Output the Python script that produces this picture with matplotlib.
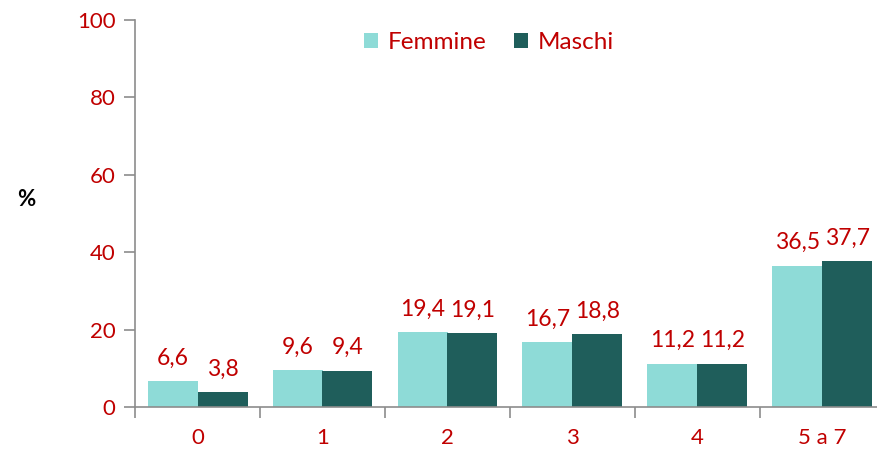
import numpy as np
import matplotlib.pyplot as plt

plt.rcParams['font.family'] = ['Lato', 'DejaVu Sans']

categories = ['0', '1', '2', '3', '4', '5 a 7']
femmine = [6.6, 9.6, 19.4, 16.7, 11.2, 36.5]
maschi = [3.8, 9.4, 19.1, 18.8, 11.2, 37.7]

red = '#C00000'
light = '#8EDBD7'
dark = '#1F5E5B'
grey = '#8C8C8C'

fig = plt.figure(figsize=(8.78, 4.5), dpi=100)
ax = fig.add_axes([135 / 878, 43 / 450, 750 / 878, 387 / 450])

x = np.arange(len(categories))
w = 0.4
b1 = ax.bar(x - w / 2, femmine, w, color=light, label='Femmine')
b2 = ax.bar(x + w / 2, maschi, w, color=dark, label='Maschi')

fmt = lambda v: f'{v:.1f}'.replace('.', ',')
for bars in (b1, b2):
    ax.bar_label(bars, labels=[fmt(v) for v in bars.datavalues],
                 padding=9, color=red, fontsize=16.5)

ax.set_xlim(-0.5, len(categories) - 0.5)
ax.set_ylim(0, 100)
ax.set_yticks(range(0, 101, 20))
ax.set_xticks(x)
ax.set_xticklabels(categories)
ax.set_xticks(np.arange(-0.5, len(categories)), minor=True)
ax.tick_params(axis='x', which='major', length=0, pad=15, labelcolor=red, labelsize=16)
ax.tick_params(axis='x', which='minor', length=8, direction='out', color=grey, width=1.2)
ax.tick_params(axis='y', length=8, direction='out', color=grey, width=1.2,
               labelcolor=red, labelsize=16, pad=6)

for s in ('top', 'right'):
    ax.spines[s].set_visible(False)
for s in ('left', 'bottom'):
    ax.spines[s].set_color(grey)
    ax.spines[s].set_linewidth(1.2)

fig.text(26 / 878, 1 - 199 / 450, '%', fontsize=16, fontweight='bold',
         ha='center', va='center', color='black')

leg = ax.legend(loc='upper center', bbox_to_anchor=(0.472, 1.025), ncol=2,
                frameon=False, fontsize=17.5, handlelength=0.6, handleheight=0.6,
                handletextpad=0.4, columnspacing=1.1)
for t in leg.get_texts():
    t.set_color(red)

fig.savefig('out.png', dpi=100)
